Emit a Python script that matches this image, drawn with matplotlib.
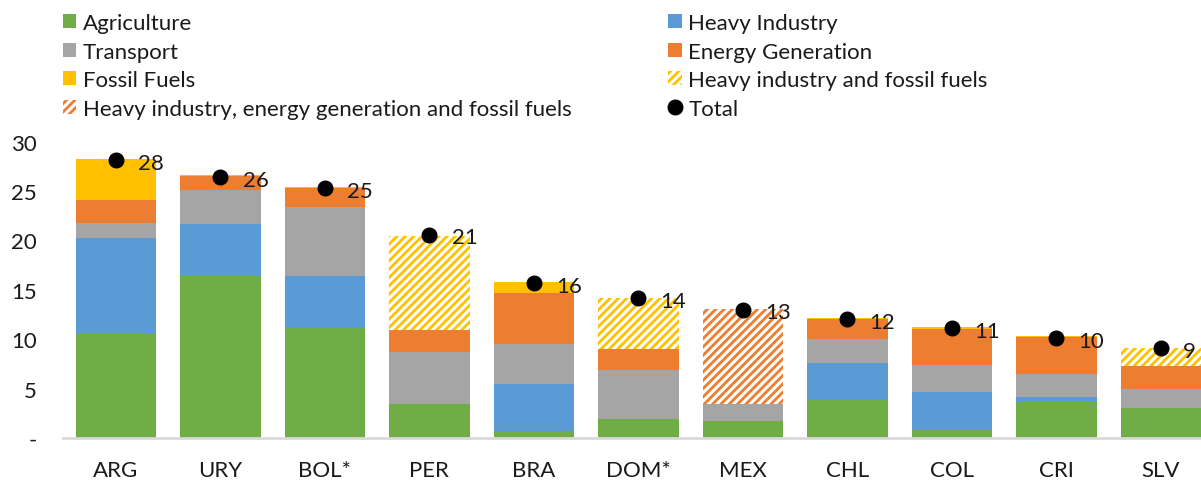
import matplotlib
matplotlib.use("Agg")
import matplotlib.pyplot as plt
from matplotlib.patches import Patch
from matplotlib.lines import Line2D
import numpy as np

plt.rcParams['font.family'] = ['Lato', 'DejaVu Sans']
plt.rcParams['hatch.linewidth'] = 2.0

countries = ["ARG", "URY", "BOL*", "PER", "BRA", "DOM*", "MEX", "CHL", "COL", "CRI", "SLV"]
agriculture = [10.5, 16.4, 11.1, 3.4, 0.7, 1.9, 1.7, 3.8, 0.9, 3.6, 3.0]
heavy_industry = [9.8, 5.3, 5.3, 0.0, 4.8, 0.0, 0.0, 3.8, 3.8, 0.6, 0.0]
transport = [1.5, 3.4, 7.0, 5.3, 4.0, 5.0, 1.7, 2.4, 2.7, 2.3, 2.0]
energy = [2.3, 1.4, 1.9, 2.2, 5.2, 2.1, 0.0, 2.0, 3.6, 3.7, 2.3]
fossil = [4.1, 0.1, 0.1, 0.0, 1.1, 0.0, 0.0, 0.1, 0.2, 0.1, 0.0]
hi_ff = [0.0, 0.0, 0.0, 9.6, 0.0, 5.2, 0.0, 0.0, 0.0, 0.0, 1.8]
hi_eg_ff = [0.0, 0.0, 0.0, 0.0, 0.0, 0.0, 9.7, 0.0, 0.0, 0.0, 0.0]
total = [28.1, 26.4, 25.3, 20.6, 15.7, 14.2, 13.0, 12.0, 11.1, 10.1, 9.1]

green = "#70AD47"
blue = "#5B9BD5"
grey = "#A5A5A5"
orange = "#ED7D31"
yellow = "#FFC000"
txt = "#1a1a1a"
hatch = "////"

fig = plt.figure(figsize=(12.01, 4.81), dpi=100)
ax = fig.add_axes([63/1201, 1-439/481, 1-63/1201, (439-142.7)/481])

x = np.arange(len(countries))
w = 0.77
bottom = np.zeros(len(countries))
solid = [(agriculture, green), (heavy_industry, blue), (transport, grey), (energy, orange), (fossil, yellow)]
for vals, col in solid:
    ax.bar(x, vals, w, bottom=bottom, color=col, linewidth=0)
    bottom += np.array(vals)
for vals, col in [(hi_ff, yellow), (hi_eg_ff, orange)]:
    ax.bar(x, vals, w, bottom=bottom, facecolor="white", edgecolor=col, hatch=hatch, linewidth=0)
    bottom += np.array(vals)

ax.plot(x, total, "o", color="black", markersize=10.5, zorder=5)
for xi, t in zip(x, total):
    ax.annotate(f"{t:.0f}", (xi, t), xytext=(16, -2), textcoords="offset points",
                ha="left", va="center", fontsize=16, color=txt, annotation_clip=False)

ax.set_xlim(-0.507, 10.385)
ax.set_ylim(0, 30)
ax.set_yticks([0, 5, 10, 15, 20, 25, 30])
ax.set_yticklabels(["-", "5", "10", "15", "20", "25", "30"])
ax.set_xticks(x)
ax.set_xticklabels(countries)
ax.tick_params(axis="y", length=0, pad=19, labelsize=16, labelcolor=txt)
ax.tick_params(axis="x", length=0, pad=16, labelsize=16, labelcolor=txt)
for s in ["top", "right", "left"]:
    ax.spines[s].set_visible(False)
ax.spines["bottom"].set_color("#D9D9D9")
ax.spines["bottom"].set_linewidth(2)

handles = [
    Patch(facecolor=green, label="Agriculture"),
    Patch(facecolor=grey, label="Transport"),
    Patch(facecolor=yellow, label="Fossil Fuels"),
    Patch(facecolor="white", edgecolor=orange, hatch=hatch, linewidth=0,
          label="Heavy industry, energy generation and fossil fuels"),
    Patch(facecolor=blue, label="Heavy Industry"),
    Patch(facecolor=orange, label="Energy Generation"),
    Patch(facecolor="white", edgecolor=yellow, hatch=hatch, linewidth=0,
          label="Heavy industry and fossil fuels"),
    Line2D([], [], marker="o", color="black", linestyle="none", markersize=10.5, label="Total"),
]
fig.legend(handles=handles, ncol=2, loc="upper left", bbox_to_anchor=(43/1201, 1.012),
           frameon=False, fontsize=16, handlelength=0.6, handleheight=0.6,
           handletextpad=0.3, labelspacing=0.38, columnspacing=4.35, labelcolor=txt)

fig.savefig("out.png", dpi=100)
